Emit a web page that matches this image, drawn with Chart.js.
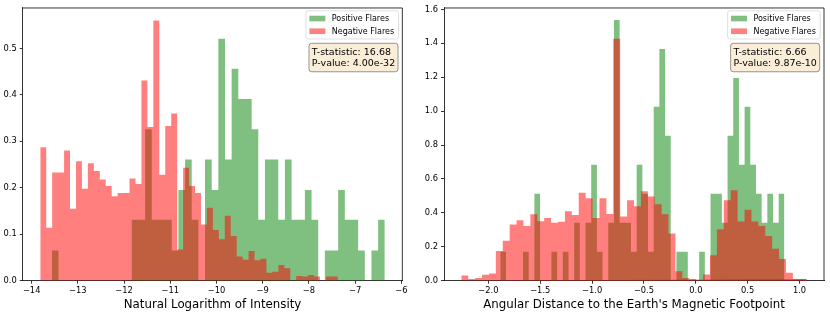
<!DOCTYPE html>
<html><head><meta charset="utf-8">
<script src="https://cdn.jsdelivr.net/npm/chart.js@4.4.0/dist/chart.umd.min.js"></script>
<style>
html,body{margin:0;padding:0;background:#fff;}
#wrap{position:relative;width:830px;height:318px;overflow:hidden;}
canvas{position:absolute;top:0;}
#c1{left:0;} #c2{left:410px;}
</style></head><body>
<div id="wrap"><canvas id="c1" width="410" height="318"></canvas><canvas id="c2" width="420" height="318"></canvas></div>
<script>
// ---- Data (histogram densities, 50 bins each) ----
const seriesLabels = ['Positive Flares', 'Negative Flares'];

const intensityPosRange = [-13.562, -6.359];
const intensityPosDensity = [0.065,0,0,0,0,0,0,0,0,0, 0,0,0.131,0.131,0.326,0.131,0.131,0.131,0.065,0.195,
  0.261,0.131,0,0.261,0.195,0.521,0.261,0.456,0.391,0.391, 0.326,0.131,0.261,0.261,0.131,0.261,0.131,0.131,0.195,0.131,
  0,0.065,0.065,0.195,0.131,0.131,0.065,0,0.065,0.131];
const intensityNegRange = [-13.814, -7.374];
const intensityNegDensity = [0.287,0.114,0.233,0.233,0.28,0.155,0.257,0.198,0.253,0.236, 0.218,0.204,0.182,0.189,0.189,0.22,0.208,0.431,0.331,0.56,
  0.228,0.333,0.36,0.067,0.243,0.204,0.189,0.121,0.157,0.109, 0.089,0.14,0.096,0.052,0.045,0.064,0.044,0.047,0.017,0.019,
  0.034,0.027,0,0.01,0.009,0.012,0.009,0,0.009,0.009];

const anglePosRange = [-1.885, 0.854];
const anglePosDensity = [0.171,0,0,0,0.171,0,0.513,0,0,0.171, 0,0.171,0,0.342,0,0.342,0.684,0.171,0,0.342,
  1.537,0.342,0.342,0.171,0.684,0.513,0.171,1.025,1.366,0.854, 0,0.171,0.171,0,0,0.171,0,0.513,0.513,0.342,
  0.854,1.195,0.684,1.025,0.684,0.513,0.342,0.513,0.342,0.513];
const angleNegRange = [-2.261, 1.069];
const angleNegDensity = [0.031,0.01,0.016,0.035,0.043,0.175,0.235,0.332,0.357,0.322, 0.392,0.351,0.369,0.342,0.347,0.41,0.388,0.518,0.486,0.369,
  0.486,0.394,1.427,0.379,0.474,0.439,0.528,0.497,0.451,0.392, 0.278,0.056,0.016,0.01,0,0.037,0.15,0.303,0.474,0.534,
  0.349,0.419,0.349,0.322,0.264,0.188,0.128,0.047,0.01,0.01];

const intensityXLimits = [-14.194, -5.979];
const intensityYLimits = [0, 0.587];
const angleXLimits = [-2.428, 1.236];
const angleYLimits = [0, 1.608];
const intensityStats = ['T-statistic: 16.68', 'P-value: 4.00e-32'];
const angleStats = ['T-statistic: 6.66', 'P-value: 9.87e-10'];
const intensityTitle = 'Natural Logarithm of Intensity';
const angleTitle = "Angular Distance to the Earth's Magnetic Footpoint";

// ---- helpers ----
function histPoints(range, vals) {
  const n = vals.length, w = (range[1] - range[0]) / n;
  const pts = [{x: range[0], y: 0}];
  vals.forEach((v, i) => {
    const a = range[0] + i * w, b = range[0] + (i + 1) * w;
    pts.push({x: a, y: v}, {x: b, y: v});
  });
  pts.push({x: range[1], y: 0});
  return pts;
}
const FONT = "'DejaVu Sans', 'Liberation Sans', sans-serif";
const minus = s => String(s).replace('-', '\u2212');

const overlayPlugin = {
  id: 'overlay',
  afterDraw(chart, args, opts) {
    const ctx = chart.ctx, a = chart.chartArea;
    ctx.save();
    // top/right spines
    ctx.strokeStyle = '#000'; ctx.lineWidth = 0.8;
    ctx.beginPath(); ctx.moveTo(a.left, a.top); ctx.lineTo(a.right, a.top); ctx.lineTo(a.right, a.bottom); ctx.stroke();

    // legend
    const f = 8;
    ctx.font = f + 'px ' + FONT;
    const items = [chart.data.datasets[1], chart.data.datasets[0]];
    const tw = Math.max(...items.map(d => ctx.measureText(d.label).width));
    const pad = 3.4, hl = 16, htp = 6.4, rowH = 8.7, rs = 4;
    const bw = pad + hl + htp + tw + pad + 1;
    const bh = pad * 2 + rowH * 2 + rs;
    const bx = a.right - 3.8 - bw, by = a.top + 2.8;
    ctx.fillStyle = 'rgba(255,255,255,0.8)';
    ctx.strokeStyle = 'rgba(204,204,204,0.8)'; ctx.lineWidth = 0.8;
    ctx.beginPath(); ctx.roundRect(bx, by, bw, bh, 2); ctx.fill(); ctx.stroke();
    items.forEach((d, i) => {
      const cy = by + pad + rowH / 2 + i * (rowH + rs);
      ctx.fillStyle = d.backgroundColor;
      ctx.fillRect(bx + pad, cy - 2.8, hl, 5.6);
      ctx.fillStyle = '#000';
      ctx.textBaseline = 'middle'; ctx.textAlign = 'left';
      ctx.fillText(d.label, bx + pad + hl + htp, cy + 0.5);
    });

    // stats box
    const fs = 9.5, lh = fs * 1.2, sp = 2.85;
    ctx.font = fs + 'px ' + FONT;
    const lines = opts.stats;
    const sw = Math.max(...lines.map(t => ctx.measureText(t).width));
    const w2 = sw + sp * 2, h2 = lh * lines.length + sp * 2;
    const x2 = a.right - 4.3 - w2, y2 = a.top + 35.3;
    ctx.fillStyle = 'rgba(245,222,179,0.5)';
    ctx.strokeStyle = 'rgba(0,0,0,0.5)'; ctx.lineWidth = 0.8;
    ctx.beginPath(); ctx.roundRect(x2, y2, w2, h2, 2.8); ctx.fill(); ctx.stroke();
    ctx.fillStyle = '#000'; ctx.textBaseline = 'middle'; ctx.textAlign = 'left';
    lines.forEach((t, i) => ctx.fillText(t, x2 + sp, y2 + sp + lh * i + lh / 2 + 0.5));
    ctx.restore();
  }
};

function makeChart(id, cfg) {
  const ds = (label, pts, color) => ({
    label, data: pts, backgroundColor: color, borderColor: 'rgba(0,0,0,0)', borderWidth: 0,
    fill: 'origin', pointRadius: 0, pointHoverRadius: 0, tension: 0
  });
  const grid = {display: true, drawOnChartArea: false, drawTicks: true, tickLength: 3, tickColor: '#000', tickWidth: 0.8};
  const border = {display: true, color: '#000', width: 0.8};
  return new Chart(document.getElementById(id), {
    type: 'line',
    data: {datasets: [
      ds(seriesLabels[1], histPoints(cfg.negRange, cfg.neg), 'rgba(255,0,0,0.5)'),
      ds(seriesLabels[0], histPoints(cfg.posRange, cfg.pos), 'rgba(0,128,0,0.5)')
    ]},
    options: {
      responsive: false, animation: false, devicePixelRatio: 1,
      layout: {padding: {left: 0, right: cfg.padRight, top: 4.7, bottom: 0}},
      events: [],
      plugins: {legend: {display: false}, tooltip: {enabled: false}, overlay: {stats: cfg.stats}},
      scales: {
        x: {type: 'linear', min: cfg.xLim[0], max: cfg.xLim[1],
          ticks: {stepSize: cfg.xStep, autoSkip: false, maxRotation: 0, includeBounds: false,
            callback: cfg.xFmt, font: {family: FONT, size: 8.3}, color: '#000', padding: 2.5},
          grid, border,
          title: {display: true, text: cfg.title, font: {family: FONT, size: 11.8}, color: '#000', padding: {top: 0, bottom: 5.9}},
          afterFit(s) { s.height = 37.3; }
        },
        y: {type: 'linear', min: cfg.yLim[0], max: cfg.yLim[1],
          ticks: {stepSize: cfg.yStep, includeBounds: false, callback: v => minus(v.toFixed(1)),
            font: {family: FONT, size: 8.3}, color: '#000', padding: 3},
          grid, border,
          afterFit(s) { s.width = cfg.yWidth; }
        }
      }
    },
    plugins: [overlayPlugin]
  });
}

makeChart('c1', {
  posRange: intensityPosRange, pos: intensityPosDensity,
  negRange: intensityNegRange, neg: intensityNegDensity,
  xLim: intensityXLimits, yLim: intensityYLimits, xStep: 1, yStep: 0.1,
  xFmt: v => minus(Math.round(v)), title: intensityTitle, stats: intensityStats,
  yWidth: 22.7, padRight: 6.7
});
makeChart('c2', {
  posRange: anglePosRange, pos: anglePosDensity,
  negRange: angleNegRange, neg: angleNegDensity,
  xLim: angleXLimits, yLim: angleYLimits, xStep: 0.5, yStep: 0.2,
  xFmt: v => minus(v.toFixed(1)), title: angleTitle, stats: angleStats,
  yWidth: 34, padRight: 6
});
</script>
</body></html>
